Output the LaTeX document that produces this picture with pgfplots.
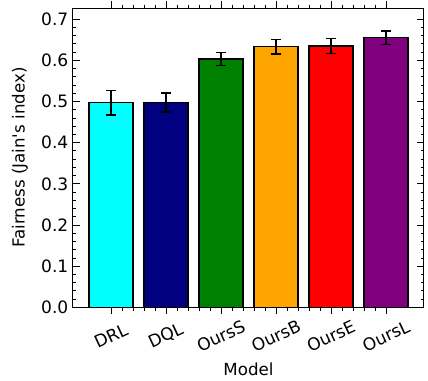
\documentclass[border=0pt]{standalone}
\usepackage{fontspec}
\setmainfont{DejaVu Sans}
\usepackage{pgfplots}
\pgfplotsset{compat=1.18}
\definecolor{cCyan}{RGB}{0,255,255}
\definecolor{cNavy}{RGB}{0,0,128}
\definecolor{cGreen}{RGB}{0,128,0}
\definecolor{cOrange}{RGB}{255,165,0}
\definecolor{cRed}{RGB}{255,0,0}
\definecolor{cPurple}{RGB}{128,0,128}
\pgfplotsset{
  mybar/.style={fill=#1, draw=black, line width=1.1pt,
    error bars/.cd, y dir=both, y explicit,
    error bar style={line width=1.1pt, black},
    error mark options={rotate=90, mark size=3.5pt, line width=1.1pt, black}},
}
\begin{document}
\begin{tikzpicture}
\begin{axis}[
  scale only axis, width=263.25pt, height=224.5pt,
  xmin=-0.69, xmax=5.69, ymin=0, ymax=0.727,
  xtick={0,1,2,3,4,5},
  xticklabels={DRL,DQL,OursS,OursB,OursE,OursL},
  minor x tick num=4,
  ytick={0,0.1,0.2,0.3,0.4,0.5,0.6,0.7},
  minor y tick num=4,
  tick align=inside, xtick pos=both, ytick pos=both,
  major tick length=5pt, minor tick length=2.5pt,
  every tick/.style={black, line width=0.6pt},
  axis line style={line width=0.75pt},
  tick label style={font=\fontsize{12.8pt}{15pt}\selectfont},
  yticklabel style={/pgf/number format/.cd, fixed, fixed zerofill, precision=1, assume math mode=true},
  xticklabel style={yshift=-16.5pt, rotate=25, anchor=center},
  xlabel={Model}, ylabel={Fairness (Jain\textquotesingle s index)},
  every axis x label/.style={at={(axis description cs:0.5,-0.207)}, anchor=center, font=\fontsize{12.5pt}{15pt}\selectfont},
  every axis y label/.style={at={(axis description cs:-0.151,0.5)}, rotate=90, anchor=center, font=\fontsize{12.5pt}{15pt}\selectfont},
  ybar, bar width=0.8, bar shift=0pt,
]
\coordinate (sw) at (rel axis cs:0,0);
\coordinate (ne) at (rel axis cs:1,1);
\addplot[mybar=cCyan] coordinates {(0,0.497) +- (0,0.030)};
\addplot[mybar=cNavy] coordinates {(1,0.497) +- (0,0.023)};
\addplot[mybar=cGreen] coordinates {(2,0.603) +- (0,0.016)};
\addplot[mybar=cOrange] coordinates {(3,0.633) +- (0,0.018)};
\addplot[mybar=cRed] coordinates {(4,0.635) +- (0,0.018)};
\addplot[mybar=cPurple] coordinates {(5,0.655) +- (0,0.016)};
\end{axis}
\pgfresetboundingbox
\path ([xshift=-54.75pt,yshift=-54.5pt]sw) rectangle ([xshift=3pt,yshift=6pt]ne);
\end{tikzpicture}
\end{document}
